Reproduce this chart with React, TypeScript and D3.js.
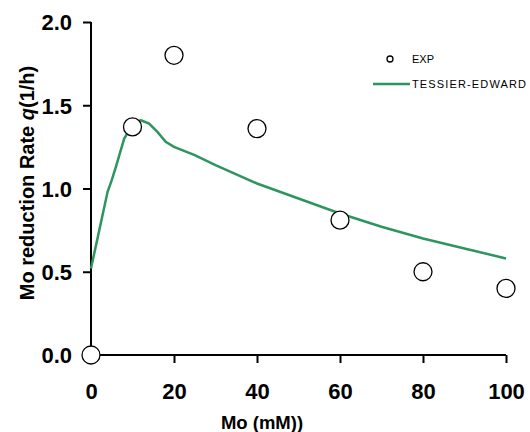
import React, { useEffect, useRef } from "react";
import * as d3 from "d3";

const expX = [0, 10, 20, 40, 60, 80, 100];
const expY = [0, 1.37, 1.8, 1.36, 0.81, 0.5, 0.4];

const modelX = [0, 2, 4, 5, 6, 8, 10, 12, 14, 16, 18, 20, 25, 30, 40, 50, 60, 70, 80, 90, 100];
const modelY = [0.52, 0.75, 0.98, 1.05, 1.13, 1.3, 1.38, 1.41, 1.39, 1.34, 1.28, 1.25, 1.2, 1.14, 1.03, 0.94, 0.85, 0.77, 0.7, 0.64, 0.58];

const xTicks = [0, 20, 40, 60, 80, 100];
const yTicks = [0, 0.5, 1.0, 1.5, 2.0];

const App = () => {
  const ref = useRef<SVGSVGElement>(null);

  useEffect(() => {
    const svg = d3.select(ref.current);
    svg.selectAll("*").remove();
    const font = "Liberation Sans, Arial, Helvetica, sans-serif";

    const x = d3.scaleLinear().domain([0, 100]).range([91, 506]);
    const y = d3.scaleLinear().domain([0, 2]).range([355, 22]);

    // axes
    const xAxis = svg.append("g")
      .attr("transform", "translate(0,355)")
      .call(d3.axisBottom(x).tickValues(xTicks).tickSize(8).tickPadding(20).tickFormat(d3.format("d")));
    const yAxis = svg.append("g")
      .attr("transform", "translate(91,0)")
      .call(d3.axisLeft(y).tickValues(yTicks).tickSize(8).tickPadding(11).tickFormat(d3.format(".1f")));

    [xAxis, yAxis].forEach(g => {
      g.select(".domain").attr("stroke", "#000").attr("stroke-width", 2);
      g.selectAll(".tick line").attr("stroke", "#000").attr("stroke-width", 2);
      g.selectAll(".tick text")
        .attr("fill", "#000")
        .style("font-family", font)
        .style("font-size", "22px")
        .style("font-weight", "bold");
    });
    xAxis.select(".domain").attr("d", "M91,0H506");
    yAxis.select(".domain").attr("d", "M0,355V22");
    yAxis.selectAll(".tick text").attr("dy", "0.36em");

    // model line
    const line = d3.line<number>()
      .x((d, i) => x(modelX[i]))
      .y(d => y(d));
    svg.append("path")
      .datum(modelY)
      .attr("d", line)
      .attr("fill", "none")
      .attr("stroke", "#2e9560")
      .attr("stroke-width", 2.5);

    // experimental points
    svg.selectAll("circle.exp")
      .data(expY)
      .enter()
      .append("circle")
      .attr("class", "exp")
      .attr("cx", (d, i) => x(expX[i]))
      .attr("cy", d => y(d))
      .attr("r", 9)
      .attr("fill", "#fff")
      .attr("stroke", "#000")
      .attr("stroke-width", 1.3);

    // axis titles
    svg.append("text")
      .attr("x", 262)
      .attr("y", 429)
      .attr("text-anchor", "middle")
      .style("font-family", font)
      .style("font-size", "18.5px")
      .style("font-weight", "bold")
      .text("Mo (mM))");

    const yt = svg.append("text")
      .attr("transform", "translate(34,183) rotate(-90)")
      .attr("text-anchor", "middle")
      .style("font-family", font)
      .style("font-size", "20px")
      .style("font-weight", "bold");
    yt.append("tspan").text("Mo reduction Rate ");
    yt.append("tspan").style("font-style", "italic").text("q");
    yt.append("tspan").text("(1/h)");

    // legend
    const lg = svg.append("g").style("font-family", font).style("font-size", "11px");
    lg.append("circle").attr("cx", 390).attr("cy", 59).attr("r", 3)
      .attr("fill", "#fff").attr("stroke", "#000").attr("stroke-width", 1.3);
    lg.append("text").attr("x", 412).attr("y", 63).text("EXP");
    lg.append("line").attr("x1", 373).attr("x2", 410).attr("y1", 84).attr("y2", 84)
      .attr("stroke", "#2e9560").attr("stroke-width", 2.5);
    lg.append("text").attr("x", 412).attr("y", 88).attr("textLength", 114).text("TESSIER-EDWARD");
  }, []);

  return (
    <svg ref={ref} width={530} height={432} style={{ position: "absolute", left: 0, top: 0 }} />
  );
};

export default App;
